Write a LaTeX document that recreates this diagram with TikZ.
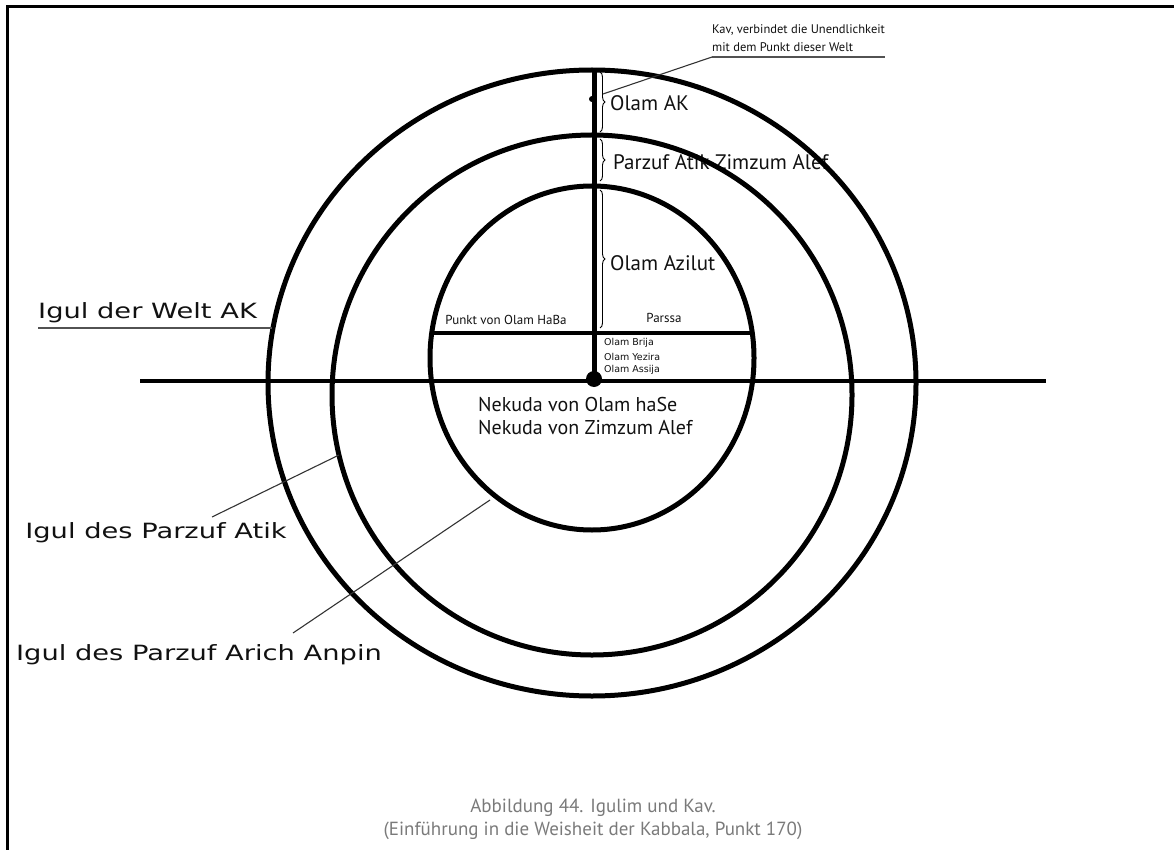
\documentclass[tikz,border=0pt]{standalone}
\usepackage{fontspec}
\setmainfont{PT Sans}
\newfontfamily\widefont[FakeStretch=1.3]{DejaVu Sans}
\newfontfamily\smallwide{DejaVu Sans}
\usepackage{tikz}
\usetikzlibrary{positioning,decorations.pathreplacing}
\definecolor{cInk}{HTML}{111111}
\definecolor{cLead}{HTML}{333333}
\definecolor{cCap}{HTML}{7A7A7A}

\begin{document}
\begin{tikzpicture}[x=1pt, y=-1pt,
    ring/.style={line width=5pt},
    bar/.style={line width=4.5pt},
    lead/.style={cLead,line width=1.1pt},
    ulin/.style={cLead!85,line width=1.6pt},
    brc/.style={decorate,decoration={brace,amplitude=5pt},line width=0.9pt},
    lbl/.style={inner sep=0pt,text=cInk},
    ulbl/.style={lbl,inner ysep=5pt}]
    \useasboundingbox (0,0) rectangle (1174,850);
    % --- frame (top and left only) -----------------------------------
    \draw[line width=3pt] (7,850) -- (7,7) -- (1174,7);

    % --- labels on the Kav -------------------------------------------
    \node[lbl,anchor=west,font=\fontsize{21}{24}\selectfont] (ak) at (610,103) {Olam AK};
    \node[lbl,anchor=west,font=\fontsize{21}{24}\selectfont] (atik) at (613,162) {Parzuf Atik Zimzum Alef};
    \node[lbl,anchor=west,font=\fontsize{21}{24}\selectfont] (azilut) at (610,263) {Olam Azilut};

    % --- the three Igulim --------------------------------------------
    \foreach \cy/\rx/\ry in {383/324/313, 395/260/260, 358/162/172}
      \draw[ring] (592,\cy) ellipse [x radius=\rx, y radius=\ry];

    % --- Kav, Parssa and the line of this world ----------------------
    \draw[bar] (140,381) -- (1046,381);
    \draw[bar] (434,333) -- (751,333);
    \draw[line width=5pt] (594,68) -- (594,381);
    \fill (594,379) circle (8pt);
    \fill (592,99) circle (3pt);
    \draw[brc] (600,72) -- (600,132);
    \draw[brc] (600,139) -- (600,181);
    \draw[brc] (600,190) -- (600,328);

    % --- inner texts -------------------------------------------------
    \node[lbl,font=\fontsize{13}{15}\selectfont] (haba) at (506,320) {Punkt von Olam HaBa};
    \node[lbl,font=\fontsize{13}{15}\selectfont] (parssa) at (664,318) {Parssa};
    \foreach \y/\w in {343/Brija,357/Yezira,370/Assija}
      \node[lbl,anchor=west,font=\smallwide\fontsize{9.5}{11}\selectfont] (olam\w) at (604,\y) {Olam \w};
    \node[lbl,anchor=north west,align=left,font=\fontsize{20}{23}\selectfont] (nekuda) at (478,397)
      {Nekuda von Olam haSe\\Nekuda von Zimzum Alef};

    % --- Kav caption, upper right ------------------------------------
    \node[ulbl,anchor=south west,align=left,font=\fontsize{12.5}{18}\selectfont] (kav) at (712,57)
      {Kav, verbindet die Unendlichkeit\\mit dem Punkt dieser Welt};
    \coordinate (kavpt) at (603,94);
    \draw[ulin] (kav.south west) -- (kav.south east);
    \draw[lead] (kav.south west) -- (kavpt);

    % --- names of the circles, left ----------------------------------
    \node[ulbl,anchor=south west,font=\widefont\fontsize{21}{24}\selectfont] (welt) at (38,328) {Igul der Welt AK};
    \coordinate (weltpt) at (272,328);
    \draw[ulin] (welt.south west) -- (weltpt);

    \node[lbl,font=\widefont\fontsize{21}{24}\selectfont] (atikl) at (156,533) {Igul des Parzuf Atik};
    \coordinate (atikA) at (212,517);
    \coordinate (atikB) at (339,455);
    \draw[lead] (atikA) -- (atikB);

    \node[lbl,font=\widefont\fontsize{21}{24}\selectfont] (arich) at (199,655) {Igul des Parzuf Arich Anpin};
    \coordinate (arichA) at (293,633);
    \coordinate (arichB) at (490,500);
    \draw[lead] (arichA) -- (arichB);

    % --- figure caption ----------------------------------------------
    \node[lbl,text=cCap,align=center,font=\fontsize{19}{23}\selectfont] (cap) at (593,819)
      {Abbildung 44. Igulim und Kav.\\(Einführung in die Weisheit der Kabbala, Punkt 170)};
  \end{tikzpicture}
\end{document}
